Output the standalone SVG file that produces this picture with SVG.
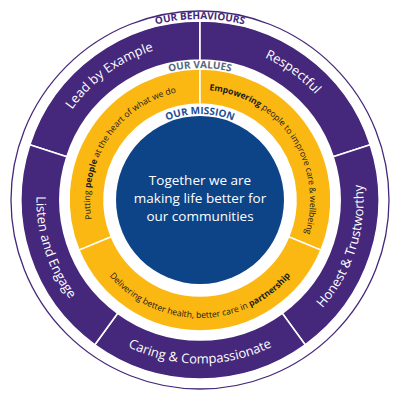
<svg xmlns="http://www.w3.org/2000/svg" xmlns:xlink="http://www.w3.org/1999/xlink" width="400" height="400" viewBox="0 0 400 400">
<style>
.pur{fill:#45287b;stroke:#fff;stroke-width:1.6}
.yel{fill:#fbb813;stroke:#fff;stroke-width:1.6}
.bt{font-family:"Open Sans","Liberation Sans",sans-serif;font-size:13px;fill:#fff}
.yt{font-family:"Open Sans","Liberation Sans",sans-serif;font-size:8.6px;fill:#1a1a1a}
.hd{font-family:"Open Sans","Liberation Sans",sans-serif;font-size:10px;font-weight:bold}
.ct{font-family:"Open Sans","Liberation Sans",sans-serif;font-size:13.5px;fill:#fff}
</style>
<defs>
<path id="pLead" d="M51.15,151.64 A156.5,156.5 0 0 1 200,43.5"/>
<path id="pResp" d="M200,43.5 A156.5,156.5 0 0 1 348.85,151.64"/>
<path id="pHon" d="M296.1,332.27 A163.5,163.5 0 0 0 355.5,149.48"/>
<path id="pCar" d="M103.9,332.27 A163.5,163.5 0 0 0 296.1,332.27"/>
<path id="pLis" d="M44.5,149.48 A163.5,163.5 0 0 0 103.9,332.27"/>
<path id="yTL" d="M98.37,242.1 A110,110 0 0 1 200,90"/>
<path id="yTR" d="M200,90 A110,110 0 0 1 301.63,242.1"/>
<path id="yB" d="M90.98,245.16 A118,118 0 0 0 309.02,245.16"/>
<path id="hBeh" d="M83.7,61.35 A181,181 0 0 1 316.3,61.35"/>
<path id="hVal" d="M134,85.7 A132,132 0 0 1 266,85.7"/>
<path id="hMis" d="M157,125.52 A86,86 0 0 1 243,125.52"/>
</defs>

<g id="outline">
<circle cx="200" cy="200" r="189" fill="none" stroke="#45287b" stroke-width="1.3"/>
</g>

<g id="lead-by-example">
<path class="pur" d="M29.76,144.69 A179,179 0 0 1 200,21 L200,60 A140,140 0 0 0 66.85,156.74 Z"/>
<text class="bt"><textPath xlink:href="#pLead" href="#pLead" startOffset="50%" text-anchor="middle">Lead by Example</textPath></text>
</g>
<g id="respectful">
<path class="pur" d="M200,21 A179,179 0 0 1 370.24,144.69 L333.15,156.74 A140,140 0 0 0 200,60 Z"/>
<text class="bt"><textPath xlink:href="#pResp" href="#pResp" startOffset="50%" text-anchor="middle">Respectful</textPath></text>
</g>
<g id="honest-trustworthy">
<path class="pur" d="M370.24,144.69 A179,179 0 0 1 305.21,344.81 L282.29,313.26 A140,140 0 0 0 333.15,156.74 Z"/>
<text class="bt"><textPath xlink:href="#pHon" href="#pHon" startOffset="50%" text-anchor="middle">Honest &amp; Trustworthy</textPath></text>
</g>
<g id="caring-compassionate">
<path class="pur" d="M305.21,344.81 A179,179 0 0 1 94.79,344.81 L117.71,313.26 A140,140 0 0 0 282.29,313.26 Z"/>
<text class="bt"><textPath xlink:href="#pCar" href="#pCar" startOffset="50%" text-anchor="middle">Caring &amp; Compassionate</textPath></text>
</g>
<g id="listen-engage">
<path class="pur" d="M94.79,344.81 A179,179 0 0 1 29.76,144.69 L66.85,156.74 A140,140 0 0 0 117.71,313.26 Z"/>
<text class="bt"><textPath xlink:href="#pLis" href="#pLis" startOffset="50%" text-anchor="middle">Listen and Engage</textPath></text>
</g>

<g id="value-people">
<path class="yel" d="M78.97,250.13 A131,131 0 0 1 200,69 L200,104 A96,96 0 0 0 111.31,236.74 Z"/>
<text class="yt"><textPath xlink:href="#yTL" href="#yTL" startOffset="50%" text-anchor="middle">Putting <tspan font-weight="bold">people</tspan> at the heart of what we do</textPath></text>
</g>
<g id="value-empowering">
<path class="yel" d="M200,69 A131,131 0 0 1 321.03,250.13 L288.69,236.74 A96,96 0 0 0 200,104 Z"/>
<text class="yt"><textPath xlink:href="#yTR" href="#yTR" startOffset="50%" text-anchor="middle"><tspan font-weight="bold">Empowering</tspan> people to improve care &amp; wellbeing</textPath></text>
</g>
<g id="value-partnership">
<path class="yel" d="M321.03,250.13 A131,131 0 0 1 78.97,250.13 L111.31,236.74 A96,96 0 0 0 288.69,236.74 Z"/>
<text class="yt"><textPath xlink:href="#yB" href="#yB" startOffset="50%" text-anchor="middle">Delivering better health, better care in <tspan font-weight="bold">partnership</tspan></textPath></text>
</g>

<g id="mission">
<circle cx="200" cy="200" r="84" fill="#0d4487"/>
<text class="ct" text-anchor="middle"><tspan x="200" y="185">Together we are</tspan><tspan x="200" y="203">making life better for</tspan><tspan x="200" y="221">our communities</tspan></text>
</g>

<g id="headings">
<text class="hd" fill="#45287b"><textPath xlink:href="#hBeh" href="#hBeh" startOffset="50%" text-anchor="middle">OUR BEHAVIOURS</textPath></text>
<text class="hd" fill="#56697c"><textPath xlink:href="#hVal" href="#hVal" startOffset="50%" text-anchor="middle">OUR VALUES</textPath></text>
<text class="hd" fill="#1f4f98" font-size="9.5"><textPath xlink:href="#hMis" href="#hMis" startOffset="50%" text-anchor="middle">OUR MISSION</textPath></text>
</g>
</svg>
